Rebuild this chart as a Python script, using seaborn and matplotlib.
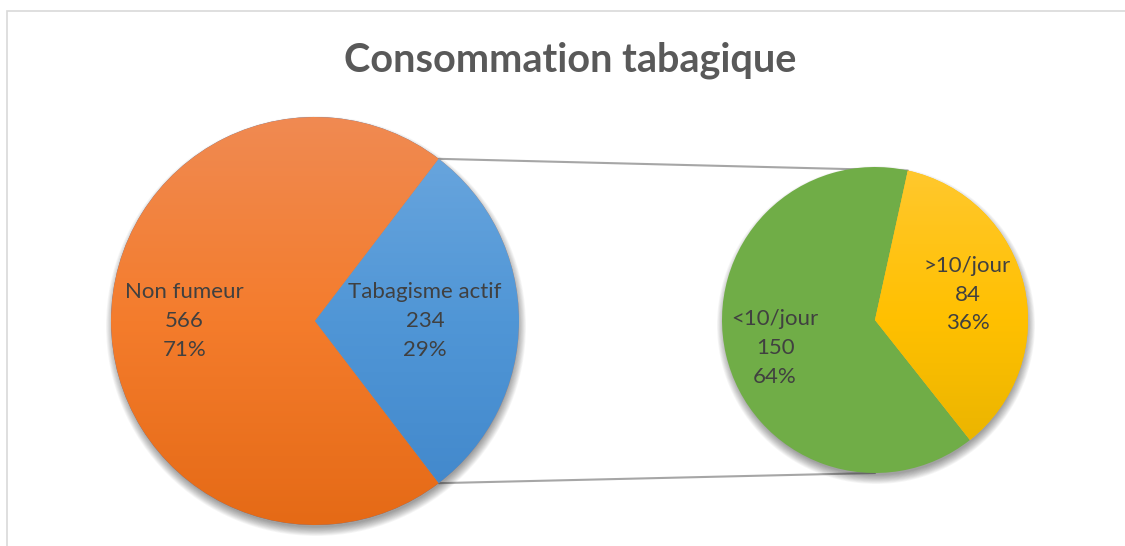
import numpy as np
import matplotlib
matplotlib.use("Agg")
import matplotlib.pyplot as plt
import seaborn as sns
from matplotlib.patches import Circle, Rectangle
from matplotlib.colors import LinearSegmentedColormap

sns.set_theme(style="white")
plt.rcParams['font.family'] = ['Lato', 'DejaVu Sans']

title = "Consommation tabagique"
main_labels = ["Non fumeur", "Tabagisme actif"]
main_values = [566, 234]
main_pcts = ["71%", "29%"]
sub_labels = ["<10/jour", ">10/jour"]
sub_values = [150, 84]
sub_pcts = ["64%", "36%"]

W, H = 1125, 546
fig = plt.figure(figsize=(W / 100, H / 100), dpi=100)
ax = fig.add_axes([0, 0, 1, 1])
ax.set_xlim(0, W)
ax.set_ylim(0, H)
ax.set_aspect('equal')
ax.axis('off')

# chart border
fig.patches.append(Rectangle((7 / W, -0.01), 1.2, (H - 11) / H + 0.01, transform=fig.transFigure,
                             fill=False, edgecolor='#D9D9D9', linewidth=1.2))

text_color = '#404040'

def shadow(center, r):
    for i in range(12):
        ax.add_patch(Circle((center[0] + 1, center[1] - 5), r + 6 - i * 0.8,
                            facecolor='black', edgecolor='none', alpha=0.035, zorder=1))

def gradient_fill(wedge, center, r, colors_top_to_bottom):
    cmap = LinearSegmentedColormap.from_list('g', colors_top_to_bottom[::-1])
    grad = np.linspace(0, 1, 256).reshape(-1, 1)
    im = ax.imshow(grad, cmap=cmap, origin='lower', aspect='auto',
                   extent=[center[0] - r, center[0] + r, center[1] - r, center[1] + r], zorder=3)
    im.set_clip_path(wedge)

def place_labels(wedges, center, r, labels, values, pcts, dists, fs, dy=None):
    dy = dy or [0] * len(wedges)
    for w, lab, v, p, d, o in zip(wedges, labels, values, pcts, dists, dy):
        ang = np.deg2rad((w.theta1 + w.theta2) / 2)
        ax.text(center[0] + d * r * np.cos(ang), center[1] + d * r * np.sin(ang) + o,
                f"{lab}\n{v}\n{p}", ha='center', va='center', fontsize=fs,
                color=text_color, linespacing=1.55, zorder=5)

# main pie
c1, r1 = (315, H - 321), 204
start1 = main_values[1] / sum(main_values) * 360 / 2
shadow(c1, r1)
w1, _ = ax.pie(main_values, center=c1, radius=r1, startangle=start1, counterclock=True,
               wedgeprops=dict(linewidth=0), frame=True)
ax.set_xlim(0, W); ax.set_ylim(0, H); ax.axis('off')
gradient_fill(w1[0], c1, r1, ['#F08A52', '#F47C2C', '#E56A16'])
gradient_fill(w1[1], c1, r1, ['#6DA8DF', '#5096D6', '#4086CA'])
for w in w1:
    w.set_zorder(2)

# secondary pie
c2, r2 = (875, H - 320), 153
start2 = 77.6
shadow(c2, r2)
w2, _ = ax.pie(sub_values, center=c2, radius=r2, startangle=start2, counterclock=True,
               colors=['#70AD47', '#FFC000'], wedgeprops=dict(linewidth=0), frame=True)
ax.set_xlim(0, W); ax.set_ylim(0, H); ax.axis('off')
for w in w2:
    w.set_zorder(3)
gradient_fill(w2[1], c2, r2, ['#FFC82E', '#FFC000', '#E6B200'])

# connector lines
a_top = np.deg2rad(w1[1].theta2 - 360)
a_bot = np.deg2rad(w1[1].theta1)
p1t = (c1[0] + r1 * np.cos(a_top), c1[1] + r1 * np.sin(a_top))
p1b = (c1[0] + r1 * np.cos(a_bot), c1[1] + r1 * np.sin(a_bot))
a2t = np.deg2rad(w2[0].theta1)
a2b = np.deg2rad(270)
p2t = (c2[0] + r2 * np.cos(a2t), c2[1] + r2 * np.sin(a2t))
p2b = (c2[0] + r2 * np.cos(a2b), c2[1] + r2 * np.sin(a2b))
ax.plot([p1t[0], p2t[0]], [p1t[1], p2t[1]], color='#A6A6A6', lw=1.5, zorder=0.5)
ax.plot([p1b[0], p2b[0]], [p1b[1], p2b[1]], color='#A6A6A6', lw=1.5, zorder=0.5)

place_labels(w1, c1, r1, main_labels, main_values, main_pcts, [0.64, 0.54], 16)
place_labels(w2, c2, r2, sub_labels, sub_values, sub_pcts, [0.67, 0.62], 16, dy=[-5, 4])

ax.text(570, H - 60, title, ha='center', va='center', fontsize=28.5, fontweight='bold',
        color='#595959', zorder=5)

fig.savefig('out.png', dpi=100)
